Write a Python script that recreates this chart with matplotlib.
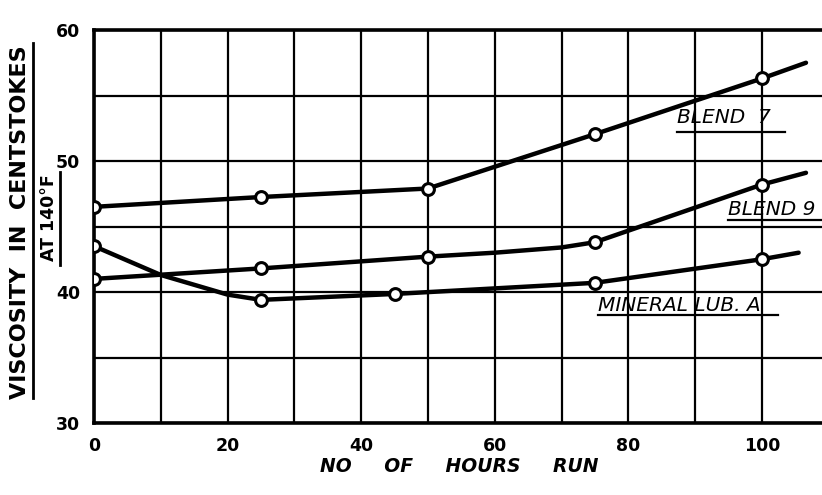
import matplotlib
matplotlib.use("Agg")
import matplotlib.pyplot as plt
from matplotlib.lines import Line2D

# Measured points (hours run, viscosity in centistokes at 140°F)
hours_blend7 = [0, 25, 50, 75, 100]
visc_blend7 = [46.5, 47.25, 47.9, 52.05, 56.3]
hours_blend9 = [0, 25, 50, 75, 100]
visc_blend9 = [41.0, 41.8, 42.7, 43.8, 48.2]
hours_mineral = [0, 25, 45, 75, 100]
visc_mineral = [43.5, 39.4, 39.85, 40.7, 42.5]

# Hand-faired curves through the points
curve_hours_blend7 = [0, 25, 50, 75, 100, 106.6]
curve_visc_blend7 = [46.5, 47.25, 47.9, 52.05, 56.3, 57.5]
curve_hours_blend9 = [0, 25, 50, 60, 70, 75, 100, 106.6]
curve_visc_blend9 = [41.0, 41.8, 42.7, 43.0, 43.4, 43.8, 48.2, 49.1]
curve_hours_mineral = [0, 10, 20, 25, 45, 75, 100, 105.5]
curve_visc_mineral = [43.5, 41.3, 39.8, 39.4, 39.85, 40.7, 42.5, 43.0]

x_ticks = [0, 20, 40, 60, 80, 100]
y_ticks = [30, 40, 50, 60]
x_grid = list(range(0, 110, 10))
y_grid = list(range(30, 61, 5))

fig = plt.figure(figsize=(8.22, 4.95), dpi=100)
ax = fig.add_axes([94 / 822, 72 / 495, 728 / 822, 393 / 495])
ax.set_xlim(0, 109)
ax.set_ylim(30, 60)

for gx in x_grid:
    ax.axvline(gx, color="black", lw=1.6, zorder=1)
for gy in y_grid:
    ax.axhline(gy, color="black", lw=1.6, zorder=1)

for side in ("left", "bottom", "top"):
    ax.spines[side].set_linewidth(2.6)
ax.spines["right"].set_visible(False)

curve_style = dict(color="black", lw=3.2, solid_capstyle="round", zorder=3)
marker_style = dict(ls="none", marker="o", ms=8.5, mfc="white", mec="black",
                    mew=2.2, zorder=4)

ax.plot(curve_hours_blend7, curve_visc_blend7, **curve_style)
ax.plot(curve_hours_blend9, curve_visc_blend9, **curve_style)
ax.plot(curve_hours_mineral, curve_visc_mineral, **curve_style)
ax.plot(hours_blend7, visc_blend7, **marker_style)
ax.plot(hours_blend9, visc_blend9, **marker_style)
ax.plot(hours_mineral, visc_mineral, **marker_style)

ax.set_xticks(x_ticks)
ax.set_yticks(y_ticks)
ax.tick_params(length=0, labelsize=12.5, pad=10)
for lab in ax.get_xticklabels() + ax.get_yticklabels():
    lab.set_fontweight("bold")

# Curve labels, underlined
label_font = dict(fontsize=14.5, fontstyle="italic", color="black", zorder=5)


def underlined(x, y, text, x_end, y_line):
    ax.text(x, y, text, ha="left", va="center", **label_font)
    ax.add_line(Line2D([x, x_end], [y_line, y_line], color="black", lw=1.6,
                       zorder=5, clip_on=False))


underlined(87.3, 53.3, "BLEND  7", 103.4, 52.2)
underlined(94.9, 46.3, "BLEND 9", 109, 45.5)
underlined(75.4, 39.0, "MINERAL LUB. A", 102.4, 38.25)

# Axis titles
fig.text(459 / 822, 1 - 467 / 495, "NO     OF     HOURS     RUN", ha="center",
         va="center", fontsize=13.5, fontweight="bold", fontstyle="italic")
fig.text(20 / 822, 1 - 222 / 495, "VISCOSITY  IN  CENTSTOKES", rotation=90,
         ha="center", va="center", fontsize=16, fontweight="bold")
fig.add_artist(Line2D([33 / 822, 33 / 822], [1 - 398 / 495, 1 - 43 / 495],
                      color="black", lw=2))
fig.text(49 / 822, 1 - 218 / 495, "AT 140°F", rotation=90, ha="center",
         va="center", fontsize=12.5, fontweight="bold")
fig.add_artist(Line2D([60 / 822, 60 / 822], [1 - 265 / 495, 1 - 172 / 495],
                      color="black", lw=2))

fig.savefig("out.png", dpi=100)
